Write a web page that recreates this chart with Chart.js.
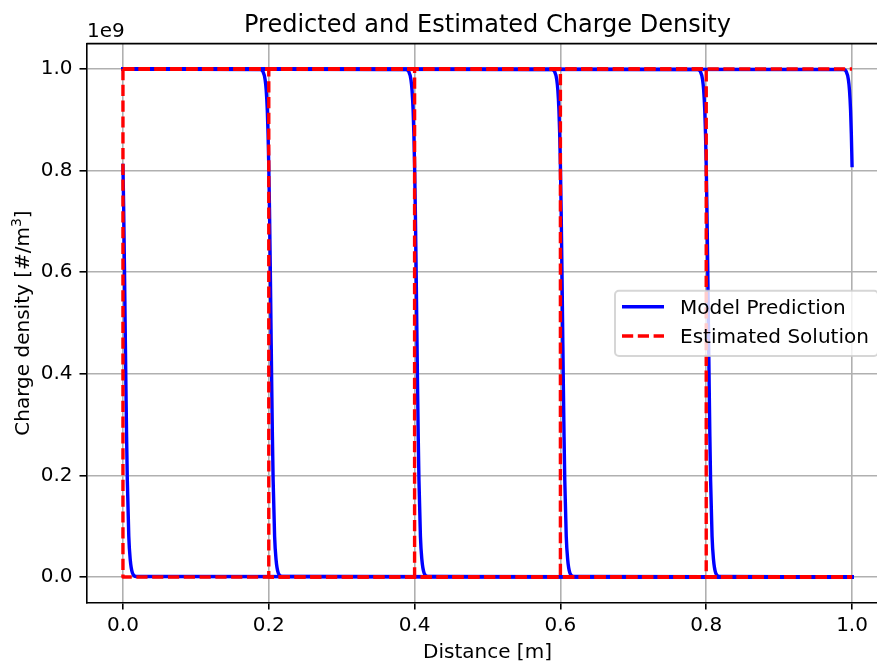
<!DOCTYPE html>
<html>
<head>
<meta charset="utf-8">
<style>
  html, body { margin: 0; padding: 0; overflow: hidden; background: #fff; }
  #wrap { width: 889px; height: 665px; }
</style>
</head>
<body>
<div id="wrap"><canvas id="chart" width="889" height="665"></canvas></div>
<script src="https://cdn.jsdelivr.net/npm/chart.js@4.4.0/dist/chart.umd.min.js"></script>
<script>
// 數值 (charge density in units of 1e9 #/m^3)
const xTicks = [0.0, 0.2, 0.4, 0.6, 0.8, 1.0];
const yTicks = [0.0, 0.2, 0.4, 0.6, 0.8, 1.0];

// model prediction, one curve per front position
const modelX_00 = [0, 0.001, 0.002, 0.003, 0.004, 0.005, 0.006, 0.008, 0.010, 0.013, 0.018, 1.0];
const modelY_00 = [0.81, 0.724, 0.618, 0.5, 0.382, 0.276, 0.19, 0.08, 0.034, 0.008, 0.001, 0];
const modelX_02 = [0, 0.188, 0.192, 0.195, 0.1965, 0.198, 0.199, 0.2, 0.201, 0.202, 0.203, 0.204, 0.205, 0.206, 0.208, 0.210, 0.213, 0.218, 1.0];
const modelX_04 = [0, 0.388, 0.392, 0.395, 0.3965, 0.398, 0.399, 0.4, 0.401, 0.402, 0.403, 0.404, 0.405, 0.406, 0.408, 0.410, 0.413, 0.418, 1.0];
const modelX_06 = [0, 0.588, 0.592, 0.595, 0.5965, 0.598, 0.599, 0.6, 0.601, 0.602, 0.603, 0.604, 0.605, 0.606, 0.608, 0.610, 0.613, 0.618, 1.0];
const modelX_08 = [0, 0.788, 0.792, 0.795, 0.7965, 0.798, 0.799, 0.8, 0.801, 0.802, 0.803, 0.804, 0.805, 0.806, 0.808, 0.810, 0.813, 0.818, 1.0];
const modelY_mid = [1, 0.999, 0.995, 0.979, 0.958, 0.918, 0.873, 0.81, 0.724, 0.618, 0.5, 0.382, 0.276, 0.19, 0.08, 0.034, 0.008, 0.001, 0];
const modelX_10 = [0, 0.988, 0.992, 0.995, 0.9965, 0.998, 0.999, 1.0];
const modelY_10 = [1, 0.999, 0.995, 0.979, 0.958, 0.918, 0.873, 0.81];

// estimated solution (step fronts)
const estX_00 = [0, 0, 1.0];
const estY_00 = [1, 0, 0];
const estX_02 = [0, 0.2, 0.2, 1.0];
const estX_04 = [0, 0.4, 0.4, 1.0];
const estX_06 = [0, 0.6, 0.6, 1.0];
const estX_08 = [0, 0.8, 0.8, 1.0];
const estY_mid = [1, 1, 0, 0];
const estX_10 = [0, 1.0];
const estY_10 = [1, 1];

const titleText = "Predicted and Estimated Charge Density";
const lineW = 3.4;
const redDash = [11.2, 4.6];

const pts = (xs, ys) => xs.map((x, i) => ({ x: x, y: ys[i] }));

const modelCurves = [
  pts(modelX_00, modelY_00),
  pts(modelX_02, modelY_mid),
  pts(modelX_04, modelY_mid),
  pts(modelX_06, modelY_mid),
  pts(modelX_08, modelY_mid),
  pts(modelX_10, modelY_10),
];
const estCurves = [
  pts(estX_00, estY_00),
  pts(estX_02, estY_mid),
  pts(estX_04, estY_mid),
  pts(estX_06, estY_mid),
  pts(estX_08, estY_mid),
  pts(estX_10, estY_10),
];

const datasets = [];
modelCurves.forEach((d, i) => {
  datasets.push({
    label: i === 0 ? "Model Prediction" : "",
    data: d,
    borderColor: "#0000ff",
    borderWidth: lineW,
    borderJoinStyle: "round",
    borderCapStyle: "square",
    cubicInterpolationMode: "monotone",
    pointRadius: 0,
    order: 1,
  });
});
estCurves.forEach((d, i) => {
  datasets.push({
    label: i === 0 ? "Estimated Solution" : "",
    data: d,
    borderColor: "#ff0000",
    borderWidth: lineW,
    borderDash: redDash,
    borderJoinStyle: "round",
    borderCapStyle: "butt",
    pointRadius: 0,
    tension: 0,
    order: 0,
  });
});

// 標題、1e9、y 軸標籤、上框線與圖例
const overlay = {
  id: "overlay",
  afterDraw(chart) {
    const { ctx, chartArea: a } = chart;
    ctx.save();
    ctx.strokeStyle = "#000";
    ctx.lineWidth = 1.6;
    ctx.beginPath();
    ctx.moveTo(a.left, a.top);
    ctx.lineTo(a.right, a.top);
    ctx.lineTo(a.right, a.bottom);
    ctx.stroke();

    ctx.fillStyle = "#000";
    ctx.font = "24px 'DejaVu Sans'";
    ctx.textAlign = "center";
    ctx.textBaseline = "alphabetic";
    ctx.fillText(titleText, (a.left + a.right) / 2, 31.7);

    ctx.font = "20px 'DejaVu Sans'";
    ctx.textAlign = "left";
    ctx.fillText("1e9", a.left + 0.5, 36.7);

    // y axis label with superscript
    const part1 = "Charge density [#/m";
    const part3 = "]";
    ctx.font = "20px 'DejaVu Sans'";
    const w1 = ctx.measureText(part1).width;
    const w3 = ctx.measureText(part3).width;
    ctx.font = "14px 'DejaVu Sans'";
    const w2 = ctx.measureText("3").width;
    const total = w1 + w2 + w3;
    ctx.translate(28.5, (a.top + a.bottom) / 2);
    ctx.rotate(-Math.PI / 2);
    ctx.font = "20px 'DejaVu Sans'";
    ctx.fillText(part1, -total / 2, 0);
    ctx.font = "14px 'DejaVu Sans'";
    ctx.fillText("3", -total / 2 + w1, -8);
    ctx.font = "20px 'DejaVu Sans'";
    ctx.fillText(part3, -total / 2 + w1 + w2, 0);
    ctx.setTransform(1, 0, 0, 1, 0, 0);

    // legend box
    ctx.beginPath();
    ctx.roundRect(615, 290.7, 263, 65.3, 4);
    ctx.fillStyle = "rgba(255,255,255,0.8)";
    ctx.fill();
    ctx.strokeStyle = "rgba(204,204,204,0.8)";
    ctx.lineWidth = 2;
    ctx.stroke();

    ctx.lineWidth = lineW;
    ctx.strokeStyle = "#0000ff";
    ctx.beginPath();
    ctx.moveTo(622, 306.7);
    ctx.lineTo(664, 306.7);
    ctx.stroke();
    ctx.strokeStyle = "#ff0000";
    ctx.setLineDash(redDash);
    ctx.beginPath();
    ctx.moveTo(622, 336);
    ctx.lineTo(664, 336);
    ctx.stroke();
    ctx.setLineDash([]);

    ctx.fillStyle = "#000";
    ctx.font = "20px 'DejaVu Sans'";
    ctx.fillText("Model Prediction", 680, 314);
    ctx.fillText("Estimated Solution", 680, 343.3);
    ctx.restore();
  },
};

Chart.defaults.font.family = "'DejaVu Sans', sans-serif";
Chart.defaults.font.size = 20;
Chart.defaults.color = "#000";

const ctx = document.getElementById("chart").getContext("2d");
const chart = new Chart(ctx, {
  type: "line",
  data: { datasets: datasets },
  options: {
    responsive: false,
    animation: false,
    devicePixelRatio: 1,
    layout: { padding: { top: 43.6, right: 0.5, left: 0, bottom: 0 } },
    plugins: {
      legend: { display: false },
      tooltip: { enabled: false },
      title: { display: false },
    },
    scales: {
      x: {
        type: "linear",
        min: -0.05,
        max: 1.05,
        afterBuildTicks: (s) => { s.ticks = xTicks.map((v) => ({ value: v })); },
        afterFit: (s) => { s.height = 62.6; },
        ticks: {
          padding: 4.3,
          maxRotation: 0,
          autoSkip: false,
          callback: (v) => v.toFixed(1),
        },
        grid: { color: "#b0b0b0", lineWidth: 1.6, tickColor: "#000", tickWidth: 1.6, tickLength: 7 },
        border: { color: "#000", width: 1.6 },
        title: { display: true, text: "Distance [m]", font: { size: 20 }, padding: { top: 0, bottom: 0 } },
      },
      y: {
        type: "linear",
        min: -0.05,
        max: 1.05,
        afterBuildTicks: (s) => { s.ticks = yTicks.map((v) => ({ value: v })); },
        afterFit: (s) => { s.width = 86.5; },
        ticks: {
          padding: 7,
          autoSkip: false,
          callback: (v) => v.toFixed(1),
        },
        grid: { color: "#b0b0b0", lineWidth: 1.6, tickColor: "#000", tickWidth: 1.6, tickLength: 7 },
        border: { color: "#000", width: 1.6 },
        title: { display: false },
      },
    },
  },
  plugins: [overlay],
});
</script>
</body>
</html>
